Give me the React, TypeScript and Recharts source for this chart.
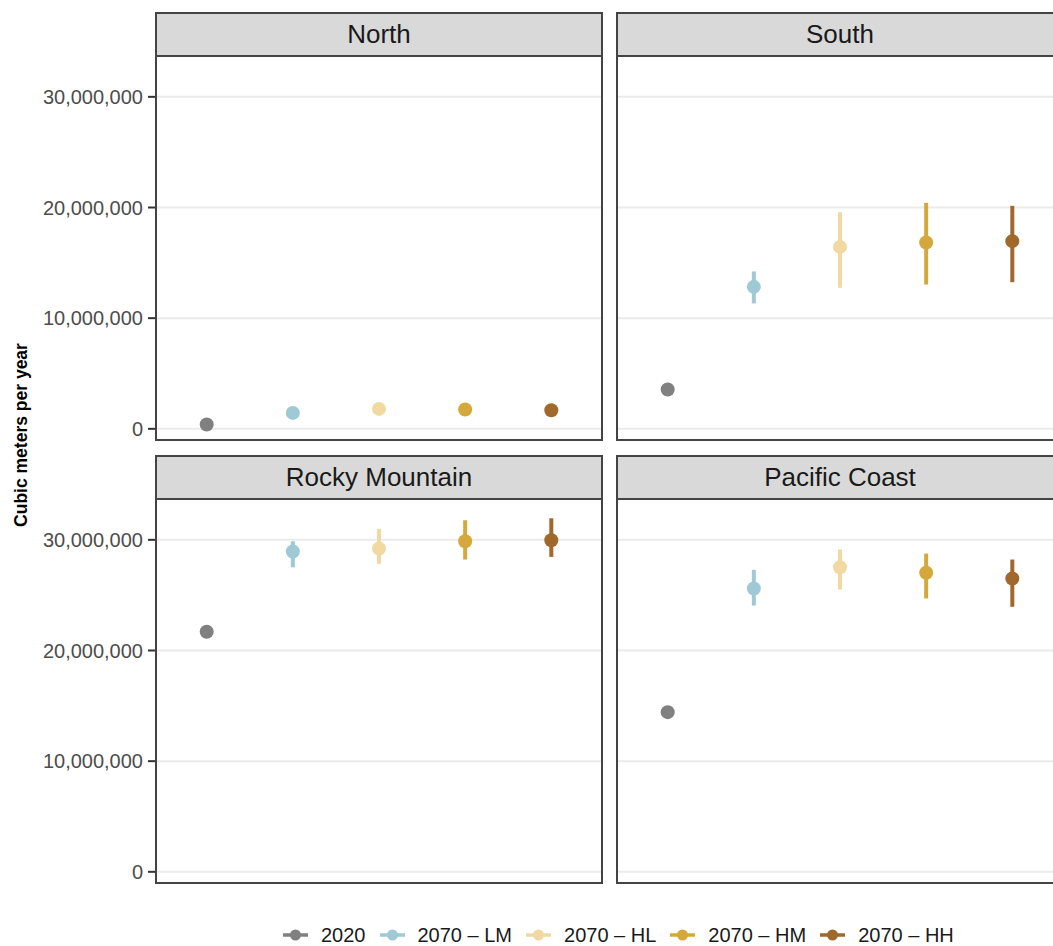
import { ScatterChart, Scatter, XAxis, YAxis, ErrorBar, ReferenceLine } from "recharts"

// scenarios + colours (legend order)
const scenarios = ["2020", "2070 – LM", "2070 – HL", "2070 – HM", "2070 – HH"]
const colors = ["#808080", "#9fc9d4", "#f1d9a1", "#d4a83b", "#a0692b"]

const yTicks = [0, 10000000, 20000000, 30000000]

// values in cubic meters per year
const northMid = [390000, 1440000, 1800000, 1740000, 1680000]
const northLow = [null, 1390000, 1740000, 1670000, 1610000]
const northHigh = [null, 1500000, 1860000, 1810000, 1750000]

const southMid = [3560000, 12830000, 16440000, 16840000, 16960000]
const southLow = [null, 11330000, 12740000, 13040000, 13250000]
const southHigh = [null, 14220000, 19570000, 20420000, 20150000]

const rockyMid = [21690000, 28940000, 29210000, 29870000, 29960000]
const rockyLow = [null, 27520000, 27830000, 28220000, 28460000]
const rockyHigh = [null, 29870000, 30990000, 31770000, 31950000]

const pacificMid = [14430000, 25600000, 27520000, 27020000, 26500000]
const pacificLow = [null, 24060000, 25510000, 24700000, 23950000]
const pacificHigh = [null, 27290000, 29120000, 28760000, 28220000]

const FONT = "'Liberation Sans', Arial, Helvetica, sans-serif"
const Y_DOMAIN = [-1100000, 33600000]
const PANEL_W = 448
const PLOT_H = 384

type Panel = {
  name: string
  mid: number[]
  low: (number | null)[]
  high: (number | null)[]
  left: number
  top: number
  axis: boolean
}

const panels: Panel[] = [
  { name: "North", mid: northMid, low: northLow, high: northHigh, left: 155, top: 12, axis: true },
  { name: "South", mid: southMid, low: southLow, high: southHigh, left: 616, top: 12, axis: false },
  { name: "Rocky Mountain", mid: rockyMid, low: rockyLow, high: rockyHigh, left: 155, top: 455, axis: true },
  { name: "Pacific Coast", mid: pacificMid, low: pacificLow, high: pacificHigh, left: 616, top: 455, axis: false }
]

function FacetPanel({ p }: { p: Panel }) {
  const axisW = p.axis ? 155 : 0
  const stripH = 45
  return (
    <>
      {/* strip */}
      <div
        style={{
          position: "absolute",
          left: p.left,
          top: p.top,
          width: PANEL_W,
          height: stripH,
          boxSizing: "border-box",
          background: "#d9d9d9",
          border: "2px solid #444",
          display: "flex",
          alignItems: "center",
          justifyContent: "center",
          fontSize: 26,
          color: "#1a1a1a"
        }}
      >
        {p.name}
      </div>
      <div style={{ position: "absolute", left: p.left - axisW, top: p.top + stripH }}>
        <ScatterChart
          width={PANEL_W + axisW}
          height={PLOT_H}
          margin={{ top: 0, right: 0, bottom: 0, left: 0 }}
        >
          <XAxis type="number" dataKey="x" domain={[0.4, 5.6]} hide />
          <YAxis
            type="number"
            dataKey="y"
            domain={Y_DOMAIN}
            ticks={yTicks}
            hide={!p.axis}
            width={axisW}
            axisLine={false}
            tickSize={7}
            tickMargin={5}
            tickLine={{ stroke: "#333", strokeWidth: 2 }}
            tick={{ fontSize: 20, fill: "#4d4d4d", fontFamily: FONT }}
            tickFormatter={(v: number) => v.toLocaleString("en-US")}
          />
          {yTicks.map((t) => (
            <ReferenceLine key={t} y={t} stroke="#ebebeb" strokeWidth={2} />
          ))}
          {scenarios.map((s, i) => {
            const lo = p.low[i]
            const hi = p.high[i]
            const d = [
              {
                x: i + 1,
                y: p.mid[i],
                err: lo != null && hi != null ? [p.mid[i] - lo, hi - p.mid[i]] : undefined
              }
            ]
            return (
              <Scatter
                key={s}
                data={d}
                fill={colors[i]}
                isAnimationActive={false}
                shape={(props: any) => (
                  <circle cx={props.cx} cy={props.cy} r={7} fill={colors[i]} />
                )}
              >
                {lo != null && (
                  <ErrorBar
                    dataKey="err"
                    direction="y"
                    width={0}
                    stroke={colors[i]}
                    strokeWidth={4}
                  />
                )}
              </Scatter>
            )
          })}
        </ScatterChart>
      </div>
      {/* panel border */}
      <div
        style={{
          position: "absolute",
          left: p.left,
          top: p.top + stripH - 2,
          width: PANEL_W,
          height: PLOT_H + 2,
          boxSizing: "border-box",
          border: "2px solid #444",
          pointerEvents: "none"
        }}
      />
    </>
  )
}

export default function App() {
  return (
    <div
      style={{
        position: "relative",
        width: 1053,
        height: 946,
        overflow: "hidden",
        background: "#fff",
        fontFamily: FONT
      }}
    >
      <style>{"body{margin:0}"}</style>
      {panels.map((p) => (
        <FacetPanel key={p.name} p={p} />
      ))}

      {/* y axis title */}
      <div
        style={{
          position: "absolute",
          left: 21,
          top: 435,
          transform: "translate(-50%, -50%) rotate(-90deg)",
          whiteSpace: "nowrap",
          fontSize: 17.5,
          fontWeight: "bold",
          color: "#000"
        }}
      >
        Cubic meters per year
      </div>

      {/* legend */}
      <div
        style={{
          position: "absolute",
          left: 283,
          top: 921,
          height: 28,
          display: "flex",
          alignItems: "center",
          fontSize: 20,
          color: "#1a1a1a"
        }}
      >
        {scenarios.map((s, i) => (
          <div key={s} style={{ display: "flex", alignItems: "center", marginRight: 14 }}>
            <svg width={25} height={16} style={{ marginRight: 13 }}>
              <line x1={0} x2={25} y1={8} y2={8} stroke={colors[i]} strokeWidth={3.5} />
              <circle cx={12.5} cy={8} r={5.5} fill={colors[i]} />
            </svg>
            <span>{s}</span>
          </div>
        ))}
      </div>
    </div>
  )
}
